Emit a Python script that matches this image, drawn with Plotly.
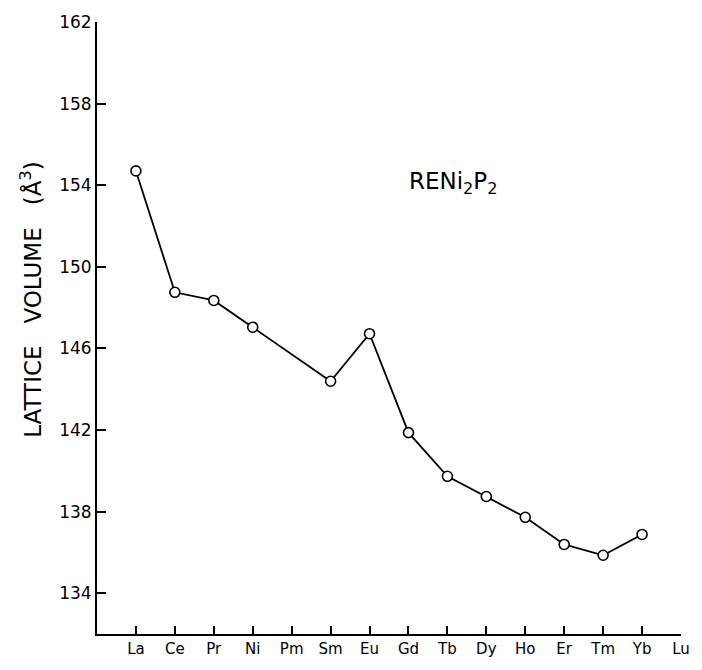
import plotly.graph_objects as go

elements = ["La", "Ce", "Pr", "Ni", "Pm", "Sm", "Eu", "Gd", "Tb", "Dy", "Ho", "Er", "Tm", "Yb", "Lu"]
volume = [154.7, 148.75, 148.35, 147.04, None, 144.39, 146.72, 141.87, 139.73, 138.74, 137.72, 136.39, 135.86, 136.88, None]
y_ticks = [134, 138, 142, 146, 150, 154, 158, 162]

FONT = "DejaVu Sans"

fig = go.Figure()
fig.add_trace(go.Scatter(
    x=elements, y=volume, mode="lines+markers", connectgaps=True,
    line=dict(color="black", width=1.8),
    marker=dict(symbol="circle", size=10, color="white",
                line=dict(color="black", width=1.6)),
    showlegend=False, cliponaxis=False,
))

fig.update_layout(
    width=702, height=670,
    margin=dict(l=97, r=14, t=18, b=35),
    paper_bgcolor="white", plot_bgcolor="white",
    font=dict(family=FONT, color="black"),
    xaxis=dict(
        type="category", categoryorder="array", categoryarray=elements,
        range=[-1, 14], showgrid=False, zeroline=False,
        showline=True, linecolor="black", linewidth=2,
        ticks="inside", ticklen=8, tickwidth=1.5, tickcolor="black",
        tickfont=dict(family=FONT, size=15),
    ),
    yaxis=dict(
        range=[132, 162], tickvals=y_ticks, showgrid=False, zeroline=False,
        showline=True, linecolor="black", linewidth=2,
        ticks="inside", ticklen=9, tickwidth=1.5, tickcolor="black",
        tickfont=dict(family=FONT, size=17),
    ),
    annotations=[
        dict(text="LATTICE\u00a0\u00a0\u00a0VOLUME\u00a0\u00a0\u00a0(Å<sup>3</sup>)",
             xref="paper", yref="paper", x=-0.113, y=0.546,
             xanchor="center", yanchor="middle", textangle=-90,
             showarrow=False, font=dict(family=FONT, size=23)),
        dict(text="RENi<sub>2</sub>P<sub>2</sub>",
             xref="x", yref="y", x=6.95, y=154.1,
             xanchor="left", yanchor="middle",
             showarrow=False, font=dict(family=FONT, size=23)),
    ],
)

fig.write_html("out.html")
